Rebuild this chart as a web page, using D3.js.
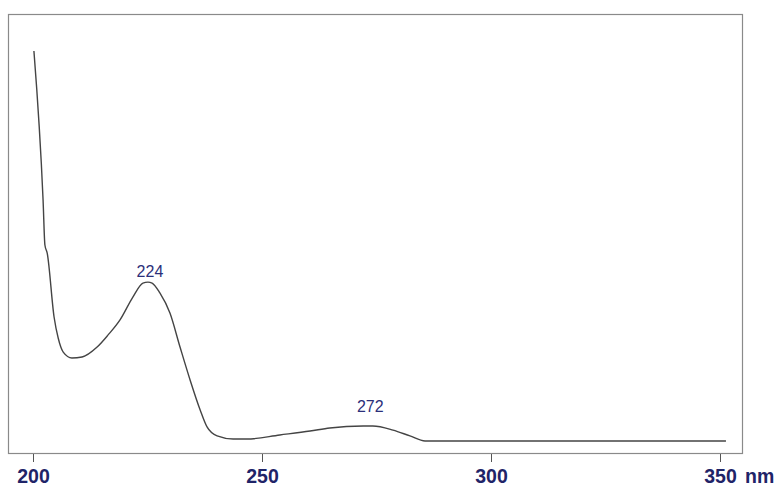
<!DOCTYPE html>
<html>
<head>
<meta charset="utf-8">
<script src="https://cdn.jsdelivr.net/npm/d3@7"></script>
<style>
  html, body { margin: 0; padding: 0; background: #fff; }
  svg { display: block; }
</style>
</head>
<body>
<svg id="chart" width="779" height="486"></svg>
<script>
// Wavelength (nm) and absorbance (arbitrary units)
const wavelengths = [200.2, 202.2, 202.6, 203.1, 204.6, 205.5, 206.6, 208.5, 210.7, 214.0, 216.4, 219.0, 221.8, 224.0, 225.1, 226.0, 227.7, 229.9, 232.1, 234.3, 236.5, 238.0, 240.2, 243.7, 246.7, 253.9, 260.5, 264.8, 272.1, 274.2, 278.6, 282.3, 285.6, 295.4, 323.8, 351.3];
const absorbance  = [2.000, 1.236, 1.005, 0.964, 0.636, 0.528, 0.456, 0.426, 0.431, 0.482, 0.544, 0.621, 0.738, 0.810, 0.815, 0.810, 0.759, 0.656, 0.482, 0.313, 0.159, 0.072, 0.026, 0.010, 0.010, 0.031, 0.051, 0.067, 0.077, 0.077, 0.056, 0.026, 0.000, 0.000, 0.000, 0.000];
const xTicks = [200, 250, 300, 350];
const axisUnit = "nm";
const peakLabels = ["224", "272"];
const peakPositions = [225.1, 273.2];
const peakValues = [0.815, 0.077];

const svg = d3.select("#chart");
const frame = { left: 8, top: 14, right: 742, bottom: 454 };

const x = d3.scaleLinear().domain([200, 350]).range([33, 720]);
const y = d3.scaleLinear().domain([0, 2]).range([441, 51]);

// frame
svg.append("rect")
  .attr("x", frame.left + 0.5).attr("y", frame.top + 0.5)
  .attr("width", frame.right - frame.left).attr("height", frame.bottom - frame.top - 1)
  .attr("fill", "none").attr("stroke", "#8a8a8a").attr("stroke-width", 1.2);

// axis
const axis = d3.axisBottom(x).tickValues(xTicks).tickSize(8).tickPadding(7).tickFormat(d3.format("d"));
const gAxis = svg.append("g").attr("transform", `translate(0,${frame.bottom})`).call(axis);
gAxis.select(".domain").remove();
gAxis.selectAll(".tick line").attr("stroke", "#555").attr("stroke-width", 1);
gAxis.selectAll(".tick text")
  .attr("fill", "#1f2468")
  .attr("font-family", "Liberation Sans, Arial, sans-serif")
  .attr("font-weight", "bold")
  .attr("font-size", 19.5);

svg.append("text")
  .attr("x", 745).attr("y", frame.bottom + 15).attr("dy", "0.71em")
  .attr("fill", "#1f2468")
  .attr("font-family", "Liberation Sans, Arial, sans-serif")
  .attr("font-weight", "bold")
  .attr("font-size", 19.5)
  .text(axisUnit);

// spectrum
const data = wavelengths.map((w, i) => ({ w, a: absorbance[i] }));
svg.append("path")
  .datum(data)
  .attr("fill", "none")
  .attr("stroke", "#444")
  .attr("stroke-width", 1.4)
  .attr("d", d3.line().x(d => x(d.w)).y(d => y(d.a)).curve(d3.curveMonotoneX));

// peak labels (the small peak's label sits higher above its curve)
svg.selectAll("text.peak")
  .data(peakLabels)
  .enter().append("text")
  .attr("class", "peak")
  .attr("x", (d, i) => x(peakPositions[i]) + 2)
  .attr("y", (d, i) => y(peakValues[i]) - (i === 0 ? 5 : 14))
  .attr("text-anchor", "middle")
  .attr("fill", "#2b2f7a")
  .attr("font-family", "Liberation Sans, Arial, sans-serif")
  .attr("font-size", 16)
  .text(d => d);
</script>
</body>
</html>
